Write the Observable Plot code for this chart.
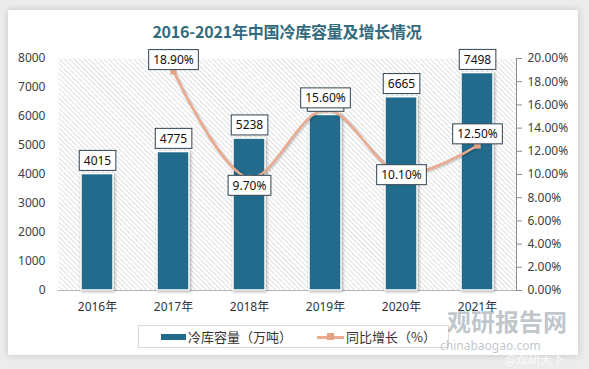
<!DOCTYPE html>
<html><head><meta charset="utf-8">
<script src="https://cdn.jsdelivr.net/npm/d3@7"></script>
<script src="https://cdn.jsdelivr.net/npm/@observablehq/plot@0.6"></script>
<style>
html,body{margin:0;padding:0;}
body{width:589px;height:369px;background:#ececec;position:relative;overflow:hidden;font-family:"Noto Sans","Noto Sans CJK SC",sans-serif;}
#card{position:absolute;left:8px;top:10px;width:570px;height:345px;background:#fff;box-shadow:0 0 7px rgba(0,0,0,0.18);}
#title{position:absolute;left:0;top:19px;width:574px;text-align:center;font-family:"Noto Sans CJK SC",sans-serif;font-weight:700;font-size:16px;color:#336b7e;letter-spacing:-0.2px;}
#chart{position:absolute;left:0;top:40px;}
#legend{position:absolute;left:138px;top:325px;width:311px;height:23px;border:1px solid #d9d9d9;box-sizing:border-box;font-family:"Noto Sans CJK SC",sans-serif;font-size:13px;color:#333;}
#legend .t{position:absolute;top:1px;white-space:nowrap;}
.wm{position:absolute;white-space:nowrap;color:rgba(110,125,140,0.45);}
</style></head>
<body>
<div id="card"></div>
<div id="title"></div>
<div id="chart"></div>
<div id="legend">
  <div style="position:absolute;left:22px;top:8px;width:25px;height:6px;background:#226b8c;"></div>
  <div class="t" id="lg1" style="left:49px;"></div>
  <div style="position:absolute;left:178px;top:10px;width:27px;height:2.5px;background:#eaad93;"></div>
  <div style="position:absolute;left:188px;top:7px;width:7px;height:7px;background:#e4a286;"></div>
  <div class="t" id="lg2" style="left:207px;"></div>
</div>
<div class="wm" style="left:447px;top:303px;font-size:24px;font-weight:700;font-family:'Noto Sans CJK SC';">观研报告网</div>
<div class="wm" style="left:440px;top:337px;font-size:12px;">chinabaogao.com</div>
<div class="wm" style="left:505px;top:350px;font-size:12px;color:rgba(255,255,255,0.85);font-family:'Noto Sans CJK SC';">@观研天下</div>
<script>
const titleText = "2016-2021年中国冷库容量及增长情况";
const years = ["2016", "2017", "2018", "2019", "2020", "2021"];
const capacity = [4015, 4775, 5238, 6053, 6665, 7498];
const growthYears = ["2017", "2018", "2019", "2020", "2021"];
const growth = [18.9, 9.7, 15.6, 10.1, 12.5];
const leftTicks = [0, 1000, 2000, 3000, 4000, 5000, 6000, 7000, 8000];
const rightTicks = [0, 2, 4, 6, 8, 10, 12, 14, 16, 18, 20];
const seriesNames = ["冷库容量（万吨）", "同比增长（%）"];
const yearSuffix = "年";

document.getElementById("title").textContent = titleText;
document.getElementById("lg1").textContent = seriesNames[0];
document.getElementById("lg2").textContent = seriesNames[1];

const k = 400; // 20% on the right axis = 8000 on the left axis
const bars = years.map((y, i) => ({year: y, cap: capacity[i]}));
const pts = growthYears.map((y, i) => ({year: y, pct: growth[i], v: growth[i] * k}));
const above = new Set(["2017", "2019", "2021"]);
const below = new Set(["2018"]);
const fmtPct = d => d.pct.toFixed(2) + "%";
const labelFont = {fontSize: 12, fill: "#111", fontFamily: "Noto Sans", className: "boxed"};

const plot = Plot.plot({
  width: 589, height: 282,
  marginTop: 18, marginBottom: 32, marginLeft: 58, marginRight: 73,
  style: {fontFamily: "Noto Sans", fontSize: "12px", color: "#404040", background: "transparent", overflow: "visible"},
  x: {domain: years, paddingInner: 0.58, paddingOuter: 0.29, label: null},
  y: {domain: [0, 8000], label: null},
  marks: [
    Plot.frame({fill: "url(#hatch)", stroke: null}),
    Plot.axisY(leftTicks, {anchor: "left", tickSize: 0, tickPadding: 13, label: null, fill: "#404040", tickFormat: d => String(d)}),
    Plot.axisY(rightTicks.map(p => p * k), {anchor: "right", tickSize: 5, tickPadding: 6, label: null, stroke: "#8c8c8c", fill: "#404040", tickFormat: d => (d / k).toFixed(2) + "%"}),
    Plot.frame({anchor: "right", stroke: "#8c8c8c"}),
    Plot.axisX({anchor: "bottom", tickSize: 0, tickPadding: 12, label: null, fill: "#333", tickFormat: d => d + yearSuffix, fontFamily: "Noto Sans, Noto Sans CJK SC"}),
    Plot.ruleY([0], {stroke: "#b5b5b5"}),
    Plot.barY(bars, {x: "year", y: "cap", fill: "#226b8c", stroke: "#fff", strokeWidth: 1.5, className: "bars"}),
    Plot.line(pts, {x: "year", y: "v", stroke: "#eaab90", strokeWidth: 2.6, curve: "catmull-rom", className: "growthline"}),
    Plot.dot(pts, {x: "year", y: "v", symbol: "square", r: 3.6, fill: "#e4a286", stroke: null}),
    Plot.text(bars, {x: "year", y: "cap", text: d => String(d.cap), dy: -13, ...labelFont}),
    Plot.text(pts.filter(d => above.has(d.year)), {x: "year", y: "v", text: fmtPct, dy: -11, ...labelFont}),
    Plot.text(pts.filter(d => below.has(d.year)), {x: "year", y: "v", text: fmtPct, dy: 8, ...labelFont}),
    Plot.text(pts.filter(d => !above.has(d.year) && !below.has(d.year)), {x: "year", y: "v", text: fmtPct, dy: 2, ...labelFont})
  ]
});
document.getElementById("chart").appendChild(plot);

const ns = "http://www.w3.org/2000/svg";
const defs = document.createElementNS(ns, "defs");
defs.innerHTML = '<pattern id="hatch" patternUnits="userSpaceOnUse" width="3.5" height="3.5" patternTransform="rotate(-45)"><rect width="3.5" height="3.5" fill="#ffffff"/><line x1="0.5" y1="0" x2="0.5" y2="3.5" stroke="#dddddd" stroke-width="0.9"/></pattern>';
plot.insertBefore(defs, plot.firstChild);

plot.querySelectorAll("g.bars").forEach(g => g.style.filter = "drop-shadow(1px 1px 1.5px rgba(0,0,0,0.35))");
plot.querySelectorAll("g.growthline").forEach(g => g.style.filter = "drop-shadow(1px 1px 1px rgba(0,0,0,0.25))");

plot.querySelectorAll("g.boxed text").forEach(t => {
  const b = t.getBBox();
  const r = document.createElementNS(ns, "rect");
  r.setAttribute("x", b.x - 4.5);
  r.setAttribute("y", b.y + b.height / 2 - 10);
  r.setAttribute("width", b.width + 9);
  r.setAttribute("height", 20);
  r.setAttribute("fill", "#fff");
  r.setAttribute("stroke", "#2f4450");
  r.setAttribute("stroke-width", "1");
  if (t.getAttribute("transform")) r.setAttribute("transform", t.getAttribute("transform"));
  t.parentNode.insertBefore(r, t);
});
</script>
</body></html>
